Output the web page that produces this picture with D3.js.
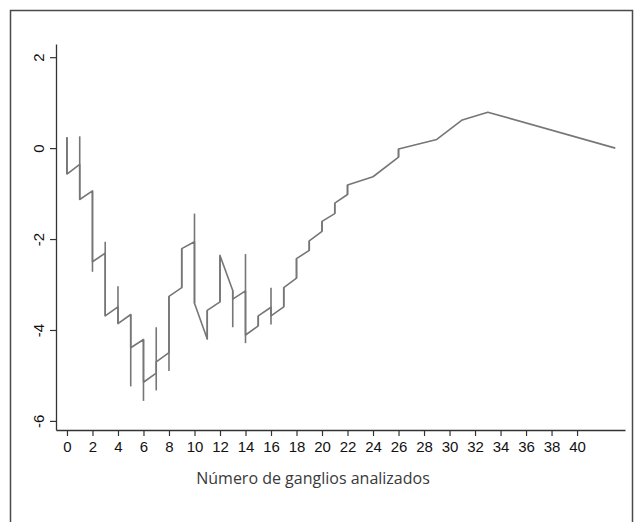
<!DOCTYPE html>
<html>
<head>
<meta charset="utf-8">
<script src="https://cdn.jsdelivr.net/npm/d3@7"></script>
<style>
  body { margin: 0; background: #fff; }
  svg { display: block; }
</style>
</head>
<body>
<div id="chart"></div>
<script>
// step positions (number of nodes) and the curve value arriving / leaving each step
const stepX     = [0, 1, 2, 3, 4, 5, 6, 7, 8, 9, 10, 11, 12, 13, 14, 15, 16, 17, 18, 19, 20, 21, 22, 24, 26, 29, 31, 33, 43];
const arriveY   = [0.24, -0.36, -0.94, -2.31, -3.49, -3.66, -4.21, -4.95, -4.50, -3.07, -2.06, -4.20, -3.38, -3.13, -3.14, -3.91, -3.50, -3.49, -2.86, -2.25, -1.83, -1.44, -1.02, -0.63, -0.20, 0.19, 0.62, 0.79, 0];
const leaveY    = [-0.57, -1.13, -2.50, -3.69, -3.86, -4.39, -5.15, -4.70, -3.26, -2.21, -3.41, -3.57, -2.36, -3.32, -4.11, -3.69, -3.69, -3.07, -2.43, -2.04, -1.61, -1.21, -0.81, -0.63, -0.02, 0.19, 0.62, 0.79, 0];
// extra reach of the vertical bars beyond the curve (null = none)
const barHigh   = [null, 0.26, null, -2.06, -3.04, null, null, -3.94, null, null, -1.44, null, null, null, -2.33, null, -3.07, null, null, null, null, null, null, null, null, null, null, null, null];
const barLow    = [null, null, -2.72, null, null, -5.24, -5.56, -5.33, -4.90, null, null, null, null, -3.94, -4.29, null, -3.88, null, null, null, null, null, null, null, null, null, null, null, null];

const xTicks = d3.range(0, 41, 2);
const yTicks = [-6, -4, -2, 0, 2];
const xTitle = "Número de ganglios analizados";

const width = 641, height = 522;

const x = d3.scaleLinear().domain([-0.86, 43.76]).range([56, 625]);
const y = d3.scaleLinear().domain([-6.2, 2.29]).range([430, 44]);

const svg = d3.select("#chart").append("svg")
  .attr("width", width)
  .attr("height", height);

// outer frame (bottom edge runs off the picture)
svg.append("rect")
  .attr("x", 10.5).attr("y", 10.5)
  .attr("width", 622).attr("height", 540)
  .attr("fill", "none")
  .attr("stroke", "#4a4a4a")
  .attr("stroke-width", 1.5);

// curve points: arrive then leave at each step
let pts = [];
stepX.forEach((sx, i) => {
  pts.push([sx, arriveY[i]]);
  if (leaveY[i] !== arriveY[i]) pts.push([sx, leaveY[i]]);
});

const line = d3.line()
  .x(d => x(d[0]))
  .y(d => y(d[1]));

// vertical bars reaching past the curve
const bars = stepX.map((sx, i) => {
  let hi = Math.max(arriveY[i], leaveY[i], barHigh[i] ?? -99);
  let lo = Math.min(arriveY[i], leaveY[i], barLow[i] ?? 99);
  return { sx, hi, lo };
}).filter(b => b.hi - b.lo > 0.001);

svg.append("g")
  .selectAll("line")
  .data(bars)
  .join("line")
  .attr("x1", d => x(d.sx)).attr("x2", d => x(d.sx))
  .attr("y1", d => y(d.hi)).attr("y2", d => y(d.lo))
  .attr("stroke", "#767676")
  .attr("stroke-width", 1.6);

svg.append("path")
  .datum(pts)
  .attr("d", line)
  .attr("fill", "none")
  .attr("stroke", "#767676")
  .attr("stroke-width", 1.6)
  .attr("stroke-linejoin", "round");

// axes (plain hyphen minus, as in the original)
const fmt = d => String(d);

const xAxis = svg.append("g")
  .attr("transform", "translate(0,430)")
  .call(d3.axisBottom(x).tickValues(xTicks).tickFormat(fmt).tickSize(6).tickPadding(5).tickSizeOuter(0));

const yAxis = svg.append("g")
  .attr("transform", "translate(56,0)")
  .call(d3.axisLeft(y).tickValues(yTicks).tickFormat(fmt).tickSize(6).tickSizeOuter(0));

[xAxis, yAxis].forEach(a => {
  a.select(".domain").attr("stroke", "#333").attr("stroke-width", 1.3);
  a.selectAll(".tick line").attr("stroke", "#333").attr("stroke-width", 1.2);
  a.selectAll("text")
    .attr("fill", "#111")
    .style("font-family", "'Liberation Sans', Arial, sans-serif")
    .style("font-size", "15px");
});

// rotated y labels
yAxis.selectAll(".tick text")
  .attr("x", null)
  .attr("dy", "0.35em")
  .attr("text-anchor", "middle")
  .attr("transform", "translate(-17,0) rotate(-90)");

// x title
svg.append("text")
  .attr("x", 313)
  .attr("y", 484)
  .attr("text-anchor", "middle")
  .attr("fill", "#3a3a3a")
  .style("font-family", "'Open Sans', sans-serif")
  .style("font-size", "16px")
  .text(xTitle);
</script>
</body>
</html>
